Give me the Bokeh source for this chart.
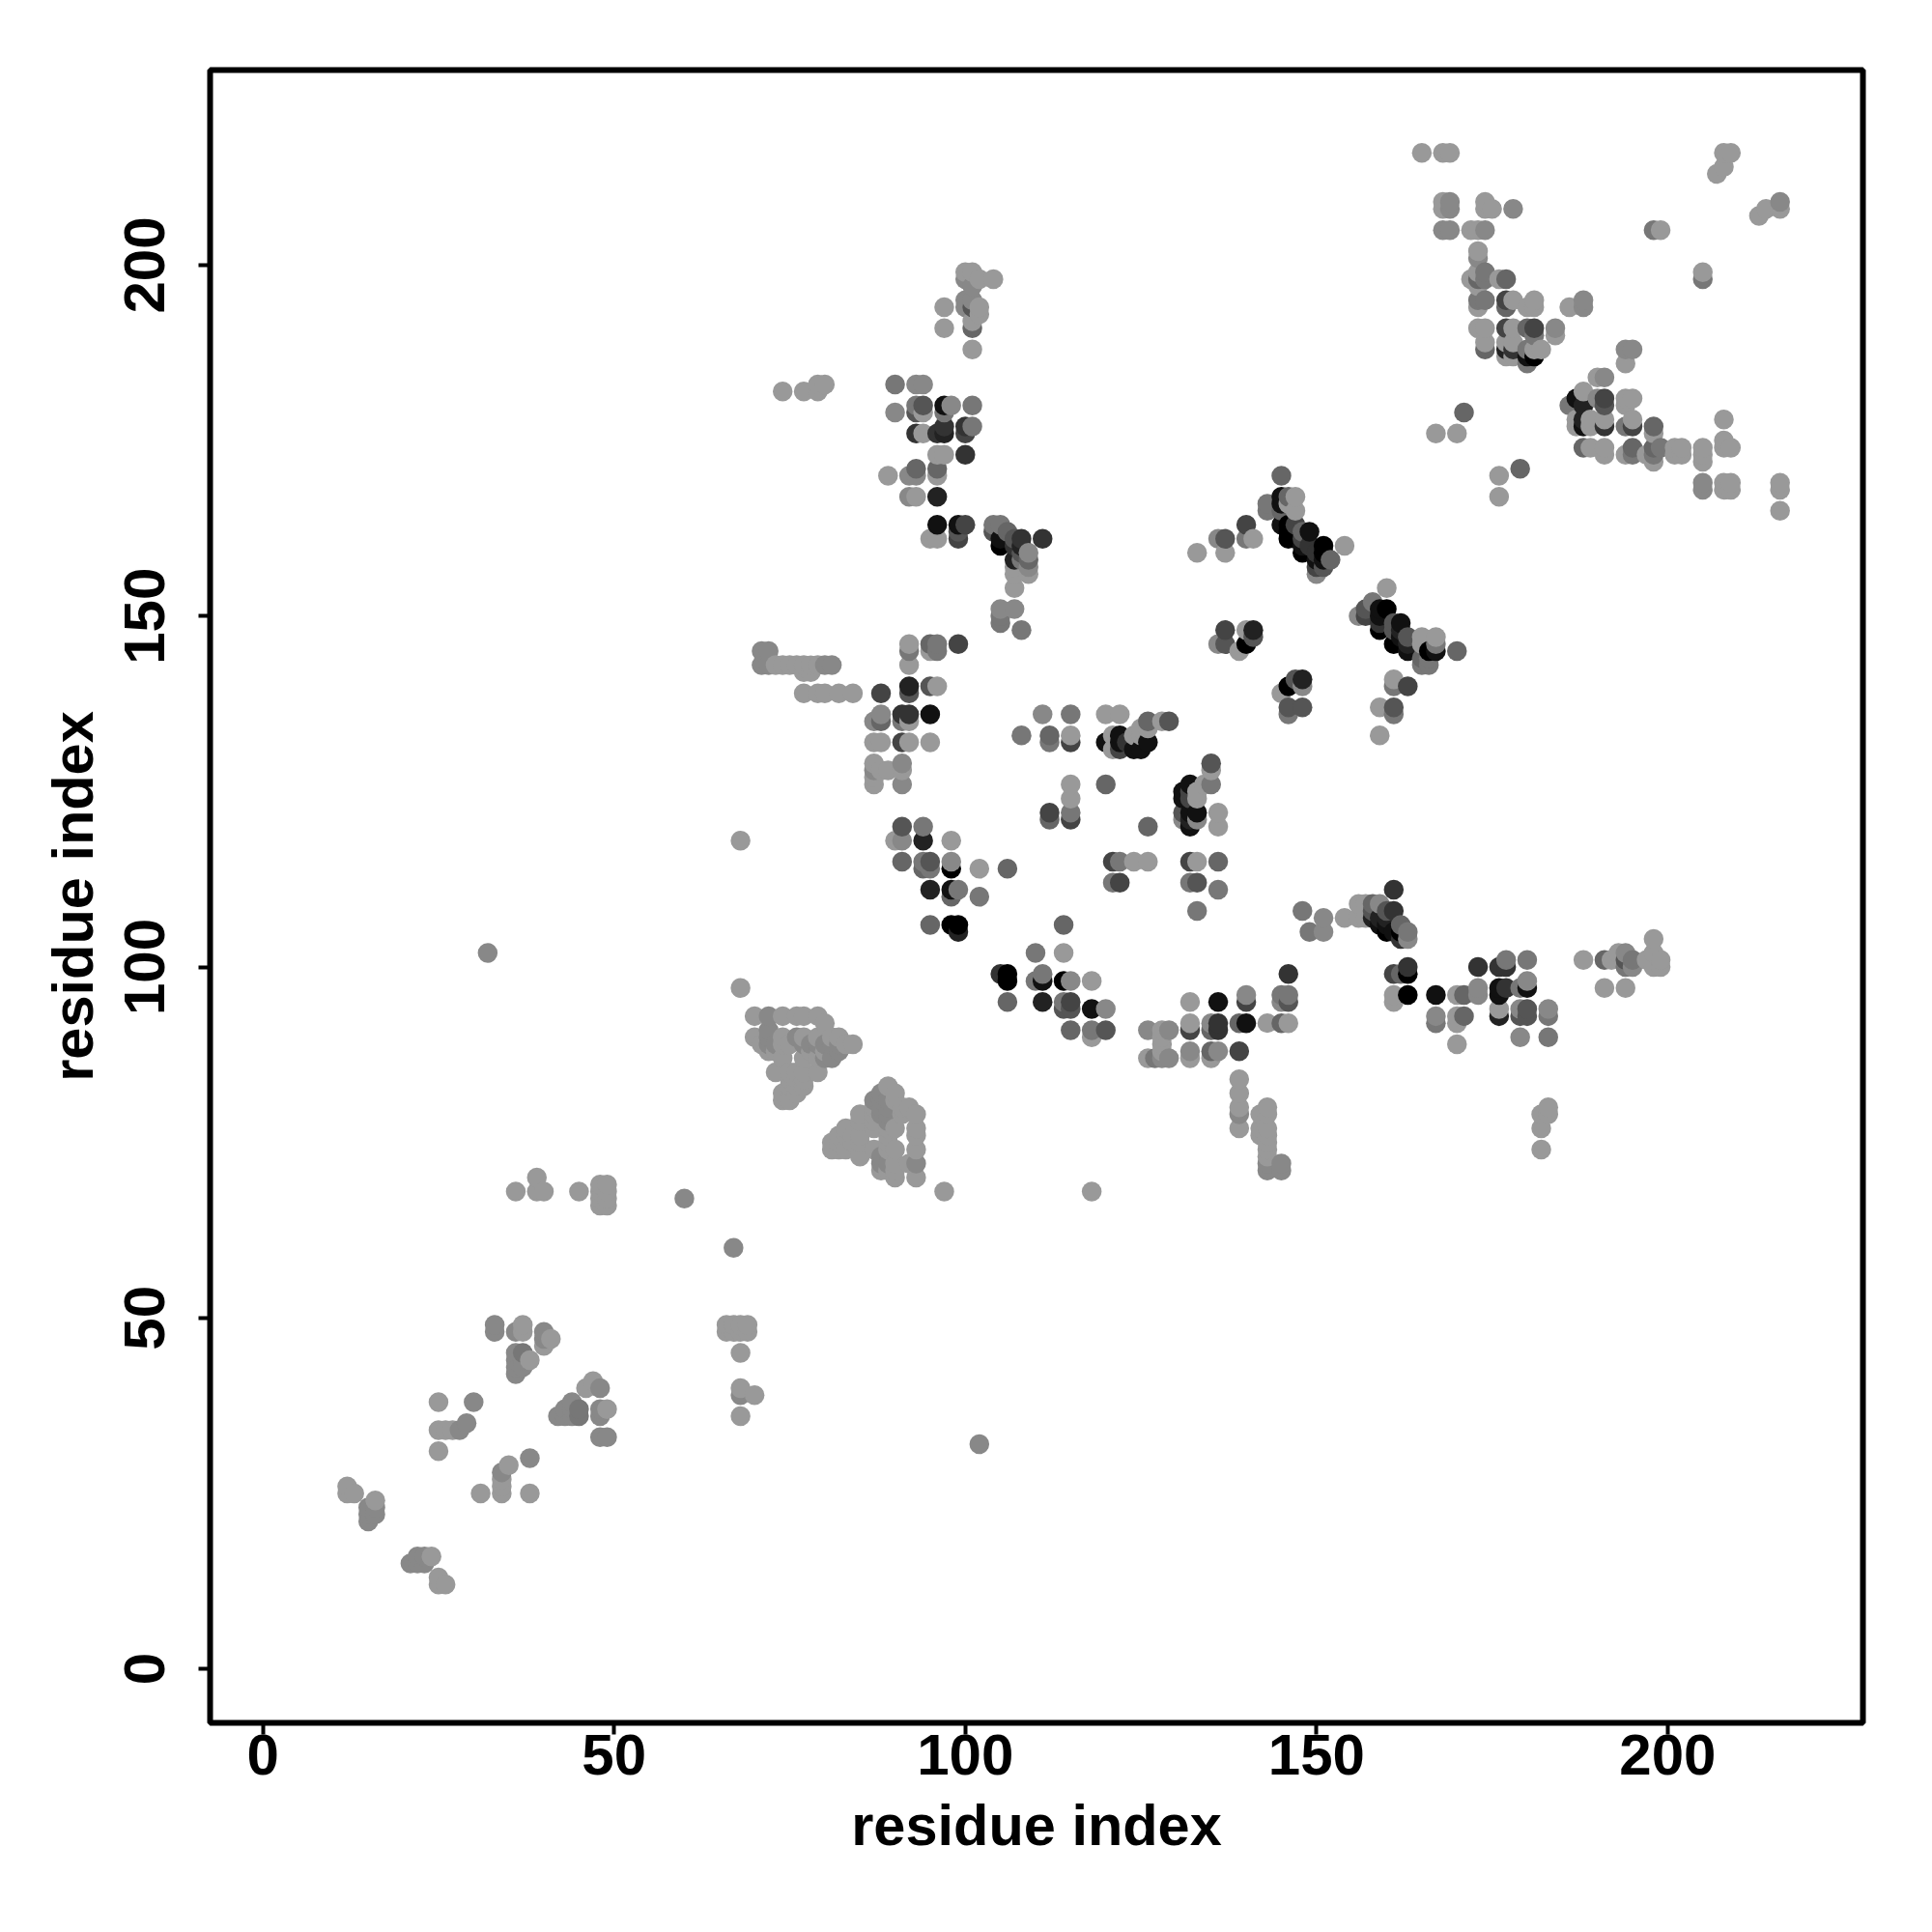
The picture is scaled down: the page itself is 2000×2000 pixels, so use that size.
from bokeh.plotting import figure
from bokeh.models import FixedTicker, ColumnDataSource
from bokeh.embed import file_html
from bokeh.resources import INLINE

# contacts as (residue_i, residue_j, shade); shade 0 (black) .. 9 (light grey)
low_a = [(36,68,9),(39,70,9),(39,68,9),(40,68,9),(45,68,9),(48,69,9),(49,69,9),(48,68,9),(49,68,9),(48,67,9),(49,67,9),(48,66,9),(49,66,9),
         (60,67,8),(67,60,8),(66,49,9),(67,49,9),(68,49,9),(69,49,9),(66,48,9),(67,48,9),(68,48,9),(69,48,9),(68,45,9),(68,40,9),(68,39,8),(70,39,9),(68,36,9)]
low_b = [(33,49,8),(33,48,8),(36,48,8),(37,49,9),(37,48,9),(40,48,8),(41,47,9),(40,47,8),(40,46,9),(36,45,8),(37,45,7),(36,44,8),(37,44,8),(38,44,9),(36,43,8),(37,43,8),(36,42,8),
         (25,38,9),(30,38,8),(29,35,8),(25,34,9),(26,34,9),(27,34,9),(28,34,8),(25,31,9)]
low_c = [(47,41,9),(46,40,9),(48,40,8),(44,38,8),(43,37,8),(44,37,8),(45,37,7),(42,36,8),(43,36,8),(44,36,8),(45,36,7),(48,37,8),(49,37,9),(48,36,8),(48,33,8),(49,33,8),
         (35,29,9),(34,28,8),(34,27,9),(34,26,9),(34,25,9),(38,30,8),(31,25,9),(38,25,9)]
low_d = [(12,26,9),(12,25,9),(13,25,9),(16,24,9),(15,23,8),(16,23,8),(15,22,8),(16,22,8),(15,21,8),
         (21,15,8),(22,16,8),(23,16,8),(24,16,9),(22,15,8),(23,15,8),(25,13,9),(25,12,9),(26,12,9),(32,102,8),(68,118,9),(102,32,8),(118,68,9),(97,68,9),(68,97,9)]
tri_a = [(70,93,9),(72,93,8),(74,93,9),(76,93,9),(77,93,9),(79,93,9),(80,92,9),(70,90,9),(72,90,8),(74,90,9),(76,90,8),(77,90,9),(79,90,9),(72,91,8),
         (71,89,9),(72,89,8),(73,89,8),(74,89,9),(75,89,9),(77,89,8),(78,89,8),(79,89,8),(80,89,8),(81,89,8),(82,89,8),(82,90,9),(81,90,9),(83,89,9),(84,89,9),
         (72,88,9),(73,88,9),(74,87,9),(77,87,9),(79,87,9),(81,87,8),(80,87,8),(82,88,8),(80,88,9),(78,88,9),
         (73,85,9),(79,85,9),(75,85,9),(76,85,9),(77,85,9),(75,84,9),(76,84,9),(77,84,9),(74,82,9),(75,83,9),(76,83,9),(77,83,9),(74,81,9),(75,81,9),(76,82,9)]
tri_b = [(89,83,9),(88,82,8),(90,82,9),(87,81,8),(88,81,8),(89,81,8),(90,81,9),(92,80,9),(91,80,9),(89,80,8),(88,80,8),(87,80,9),(85,79,9),(87,79,9),(88,79,8),(89,79,8),(91,79,9),(93,79,9),
         (87,78,9),(89,78,8),(85,78,9),(90,77,9),(89,77,9),(93,77,9),(87,77,9),(83,77,9),(93,76,9),(89,76,9),(82,76,9),(83,76,9),(84,76,9),(85,76,9),
         (81,75,9),(82,75,9),(84,75,9),(85,75,9),(89,75,9),(81,74,9),(82,74,9),(83,74,9),(90,74,9),(89,74,9),(93,74,9),(85,73,9),(87,74,9),
         (88,72,8),(90,72,9),(92,72,9),(93,72,8),(89,72,8),(88,73,8),(88,71,9),(89,71,9),(90,70,9),(93,70,9),(90,71,9)]
mid_a = [(102,110,7),(99,106,0),(98,106,0),(95,106,6),(99,105,2),(114,106,6),(110,102,7),(114,102,9),(105,99,3),(106,99,0),(106,98,0),(110,98,7),(111,99,7),(111,98,1),
         (114,98,0),(115,98,8),(118,98,9),(106,95,6),(111,95,2),(114,95,7),(115,95,4),(114,94,5),(115,94,5),(118,94,1),(120,94,8),(115,91,6),(118,91,7),(118,90,9),(120,91,5)]
mid_b = [(126,91,8),(128,91,9),(129,91,8),(128,90,9),(128,89,9),(128,88,9),(126,87,9),(127,87,7),(128,87,8),(129,87,8),(132,92,9),(132,91,4),(132,95,9),(132,88,8),(132,87,9),
         (135,92,8),(135,91,6),(136,92,3),(136,91,3),(136,95,1),(135,88,6),(136,88,8),(135,87,9),(139,88,4),(139,92,6),(140,92,1),(140,95,4),(140,96,8),(143,92,9),(145,92,6),(146,92,9),
         (146,99,3),(145,96,7),(146,96,7),(145,95,8),(146,95,5)]
lines_a = [(139,84,9),(139,82,9),(139,80,9),(139,79,8),(139,77,9),(143,80,9),(142,79,9),(143,79,9),(142,77,9),(143,77,9),(142,76,9),(143,76,9),(143,75,9),(143,74,9),(143,73,9),(143,72,8),(143,71,8),(145,72,8),(145,71,8),
           (183,80,9),(182,79,9),(183,79,9),(182,77,9),(182,74,9)]
right_a = [(148,108,7),(151,107,8),(149,105,7),(151,105,8),(154,107,9),(156,109,9),(157,109,9),(158,109,6),(159,109,8),(158,108,5),(160,108,5),(161,108,3),(161,111,3),
           (156,107,9),(157,107,9),(158,107,2),(159,107,2),(160,107,2),(160,105,0),(159,106,1),(160,106,1),(162,106,6),(162,105,0),(163,105,7),(162,104,3),(163,104,8),(161,105,1)]
right_b = [(163,100,3),(161,99,4),(162,99,6),(163,99,0),(163,96,0),(161,96,9),(161,95,9),(167,96,1),(170,96,9),(171,96,6),(173,100,3),(173,97,8),(173,96,8),
           (176,100,3),(177,101,7),(177,100,3),(180,101,7),(176,97,1),(176,96,1),(177,97,3),(179,97,7),(180,98,8),(180,97,1),(167,93,8),(167,92,7),(170,93,9),(170,92,9),(171,93,6),(170,89,9),
           (176,94,9),(176,93,2),(179,94,8),(179,93,5),(180,94,5),(180,93,5),(183,94,8),(183,93,7),(179,90,8),(183,90,7)]
right_c = [(188,101,9),(191,101,6),(192,101,9),(191,97,9),(194,97,9),(193,102,9),(194,102,8),(194,101,5),(194,100,7),(195,101,7),(195,100,8),
           (198,104,9),(198,102,9),(197,101,9),(198,100,9),(199,101,9),(199,100,9)]
far_a = [(71,145,8),(72,145,8),(71,143,8),(72,143,8),(73,143,9),(74,143,9),(75,143,9),(76,143,9),(77,143,9),(78,143,9),(79,143,9),(80,143,8),(81,143,8),(77,142,9),(78,142,9),
         (77,139,9),(79,139,9),(80,139,9),(82,139,9),(84,139,9),(74,182,9),(77,182,9),(79,182,9),(79,183,9),(80,183,9)]
cen_a = [(105,149,7),(108,148,7),(92,146,9),(92,145,7),(92,143,9),(95,146,6),(96,146,7),(95,145,9),(96,145,7),(99,146,4),(92,140,2),(92,139,5),(95,140,5),(96,140,9),(88,139,4),
         (87,135,8),(88,136,8),(88,135,6),(91,136,3),(92,136,3),(91,135,7),(92,135,9),(95,136,1),(87,132,9),(88,132,9),(91,132,4),(92,132,9),(95,132,9),
         (87,129,9),(87,128,8),(87,127,9),(87,126,9),(88,128,9),(89,128,9),(91,129,8),(91,128,9),(91,126,8)]
cen_b = [(111,136,8),(115,136,7),(120,136,9),(122,136,9),(108,133,7),(112,133,6),(112,132,7),(115,133,9),(115,132,4),(120,132,1),(121,133,9),(121,131,9),(122,133,1),(122,132,1),(122,131,4),(123,132,3),
         (124,131,1),(125,131,1),(124,133,9),(125,134,9),(126,135,6),(126,134,9),(125,133,9),(126,132,1),(128,135,9),(129,135,5),(115,126,9),(115,124,9),(120,126,6),(112,122,4),(112,121,6),(115,122,7),(115,121,4),(126,120,6)]
cen_c = [(135,129,5),(135,128,9),(135,126,7),(132,126,1),(131,125,1),(131,124,1),(133,125,9),(134,126,9),(133,124,9),(132,124,4),(132,125,4),(131,122,5),(132,122,1),(133,122,1),(131,121,8),(132,121,2),(133,121,8),(132,120,1),
         (136,122,9),(136,120,9),(132,115,4),(133,115,9),(136,115,6),(132,112,7),(133,112,5),(136,111,7),(133,108,7),(121,115,4),(122,115,7),(124,115,9),(126,115,9),(121,112,7),(122,112,4)]
cen_d = [(91,120,5),(94,120,7),(90,118,9),(91,118,8),(94,118,2),(98,118,9),(91,115,6),(94,115,7),(95,115,5),(94,114,6),(95,114,7),(98,115,8),(98,114,0),(102,114,9),(106,114,6),(95,111,2),(98,111,1),(99,111,7),(98,110,6),(102,110,7)]
cen_e = [(137,148,4),(136,146,8),(137,146,5),(140,148,9),(141,148,2),(141,147,5),(140,146,0),(139,145,9),(148,141,2),(147,141,5),(146,140,0),(145,139,9),(148,140,8),(146,137,5),(148,137,5),(146,136,7)]
up_a = [(100,199,9),(101,199,9),(100,198,8),(102,198,9),(104,198,9),(101,197,8),(101,195,8),(100,195,8),(100,194,8),(101,194,5),(102,194,9),(102,193,9),(101,192,9),(101,191,6),(97,194,9),(97,191,9),(101,188,9),
        (90,183,7),(93,183,8),(94,183,8),(90,179,8),(93,180,7),(94,180,5),(93,179,5),(94,179,9),(97,180,1),(98,180,8),(97,179,7),(101,180,7),(93,176,3),(94,176,9),(96,176,3),(97,176,2),(97,177,3),(100,177,3),(101,177,7),(100,176,4)]
up_b = [(96,173,9),(97,173,9),(100,173,3),(93,171,6),(96,171,6),(96,170,9),(92,170,8),(93,170,8),(89,170,9),(92,167,8),(93,167,9),(96,167,2),(96,163,1),(99,163,1),(100,163,4),(99,161,4),(95,161,9),(96,161,9),(99,162,5),
        (104,163,7),(105,163,7),(104,162,5),(106,162,6),(105,161,1),(105,160,0),(107,161,5),(108,161,3),(111,161,3),(107,160,3),(107,158,2),(108,160,2),(109,159,8),(109,158,6),(109,157,8),(109,156,9),(107,157,9),(107,156,9),(107,154,9),(105,151,8),(107,151,8),(105,150,7),(108,159,5),(108,158,7)]
diag_a = [(145,170,6),(143,166,7),(143,165,7),(145,167,1),(145,166,1),(146,167,6),(147,167,9),(146,166,9),(147,165,9),(145,165,6),(140,163,4),(145,163,1),(146,163,0),(147,163,4),(146,162,0),(146,161,0),(148,162,6),(149,162,1),
          (147,161,0),(148,161,4),(148,160,1),(148,159,0),(149,160,3),(151,160,0),(151,159,0),(152,158,6),(150,159,3),(150,158,1),(151,158,1),(150,157,4),(151,157,5),(150,156,8),(154,160,9),
          (136,161,8),(137,161,5),(140,161,7),(141,161,9),(133,159,9),(137,159,9)]
diag_b = [(160,154,9),(158,152,7),(160,151,0),(159,151,1),(157,151,5),(157,150,4),(156,150,8),(159,150,1),(159,149,3),(159,148,0),(162,149,1),(161,149,5),(161,148,5),(161,146,0),(162,148,2),(163,147,5),(162,147,1),(163,145,1),(163,146,2),
          (165,147,9),(167,147,9),(165,146,9),(167,146,7),(166,145,0),(167,145,1),(165,144,6),(165,143,7),(166,143,7),(166,144,7),(170,145,6),(161,141,9),(161,140,7),(163,140,4),(159,137,9),(161,137,5),(161,136,7),(159,133,9)]
top_a = [(165,216,9),(168,216,9),(169,216,9),(168,209,9),(169,209,8),(168,208,9),(169,208,8),(174,209,9),(174,208,9),(175,208,9),(178,208,8),(168,205,8),(169,205,8),(172,205,9),(173,205,9),(174,205,8),(173,202,9),(173,201,8),
         (172,198,9),(173,199,9),(174,199,7),(173,198,6),(174,198,7),(176,198,9),(177,198,6),(173,197,9),(173,195,7),(174,195,7),(173,194,9),(177,195,4),(178,195,9),(177,194,6),(181,195,9),(180,194,9),(181,194,9),(186,194,9),(188,195,8),(188,194,8)]
top_b = [(173,191,9),(174,191,9),(177,191,4),(178,191,9),(180,191,6),(181,191,4),(184,191,8),(184,190,9),(181,190,7),(174,189,9),(174,188,6),(177,189,9),(178,189,9),(177,188,2),(178,188,3),(177,187,9),(178,187,9),(180,188,7),(181,188,9),(182,188,9),(181,187,0),(180,187,1),(180,186,7),
         (198,205,7),(199,205,9),(205,199,9),(205,198,7),(208,216,9),(209,216,9),(208,214,9),(207,213,9),(216,209,8),(216,208,9),(214,208,9),(213,207,9),(194,188,8),(195,188,8),(194,186,9)]
bot_a = [(190,184,9),(191,184,8),(188,182,9),(187,181,1),(186,180,7),(188,180,2),(190,181,8),(191,181,4),(191,180,5),(194,181,9),(195,181,9),(194,180,9),(187,178,9),(188,178,2),(187,177,9),(188,177,1),(189,178,9),(189,177,9),(191,178,9),(191,177,3),
         (195,178,9),(194,177,7),(195,177,4),(198,177,6),(198,176,9),(171,179,6),(167,176,9),(170,176,9),(179,171,6),(176,170,9),(176,167,9)]
bot_b = [(188,174,6),(189,174,9),(191,174,9),(195,174,6),(198,174,6),(199,174,7),(201,174,9),(202,174,9),(205,174,9),(208,174,9),(209,174,9),(191,173,9),(194,173,9),(195,173,7),(197,173,9),(198,173,7),(201,173,9),(202,173,9),(205,173,9),(198,172,9),(205,172,9),
         (208,178,9),(208,175,9),(205,169,8),(205,168,8),(208,169,9),(209,169,9),(208,168,9),(209,168,9),(216,169,9),(216,168,9),(216,165,9)]

tick_values = [0, 50, 100, 150, 200]
x_label = "residue index"
y_label = "residue index"

groups = [low_a, low_b, low_c, low_d, tri_a, tri_b, mid_a, mid_b, lines_a, right_a, right_b, right_c, far_a,
          cen_a, cen_b, cen_c, cen_d, cen_e, up_a, up_b, diag_a, diag_b, top_a, top_b, bot_a, bot_b]
points = sorted({(a, b): s for g in groups for a, b, s in g}.items())
xs = [k[0] for k, s in points]
ys = [k[1] for k, s in points]
cols = ["#" + format(17 * s, "02x") * 3 for k, s in points]
src = ColumnDataSource(dict(x=xs, y=ys, c=cols))

p = figure(frame_width=1711, frame_height=1711, output_backend="svg", toolbar_location=None,
           x_range=(-7.52, 227.8), y_range=(-7.7, 227.8),
           min_border_left=217, min_border_right=50, min_border_top=72, min_border_bottom=200,
           background_fill_color="white", border_fill_color="white")
p.scatter("x", "y", source=src, size=20.5, marker="circle", fill_color="c", line_color=None)

p.grid.visible = False
p.outline_line_color = "black"
p.outline_line_width = 6
for ax, lab in ((p.xaxis[0], x_label), (p.yaxis[0], y_label)):
    ax.ticker = FixedTicker(ticks=tick_values)
    ax.axis_label = lab
    ax.axis_line_color = None
    ax.major_tick_in = 0
    ax.major_tick_out = 12
    ax.major_tick_line_width = 4
    ax.major_tick_line_color = "black"
    ax.minor_tick_line_color = None
    ax.major_label_text_font = "Liberation Sans"
    ax.major_label_text_font_style = "bold"
    ax.major_label_text_font_size = "60px"
    ax.major_label_text_color = "black"
    ax.axis_label_text_font = "Liberation Sans"
    ax.axis_label_text_font_style = "bold"
    ax.axis_label_text_font_size = "59.5px"
    ax.axis_label_text_color = "black"
p.xaxis[0].major_label_standoff = 0
p.xaxis[0].axis_label_standoff = 16
p.yaxis[0].major_label_standoff = 35
p.yaxis[0].axis_label_standoff = 18
p.yaxis[0].major_label_orientation = "vertical"

open("out.html", "w").write(file_html(p, INLINE))
